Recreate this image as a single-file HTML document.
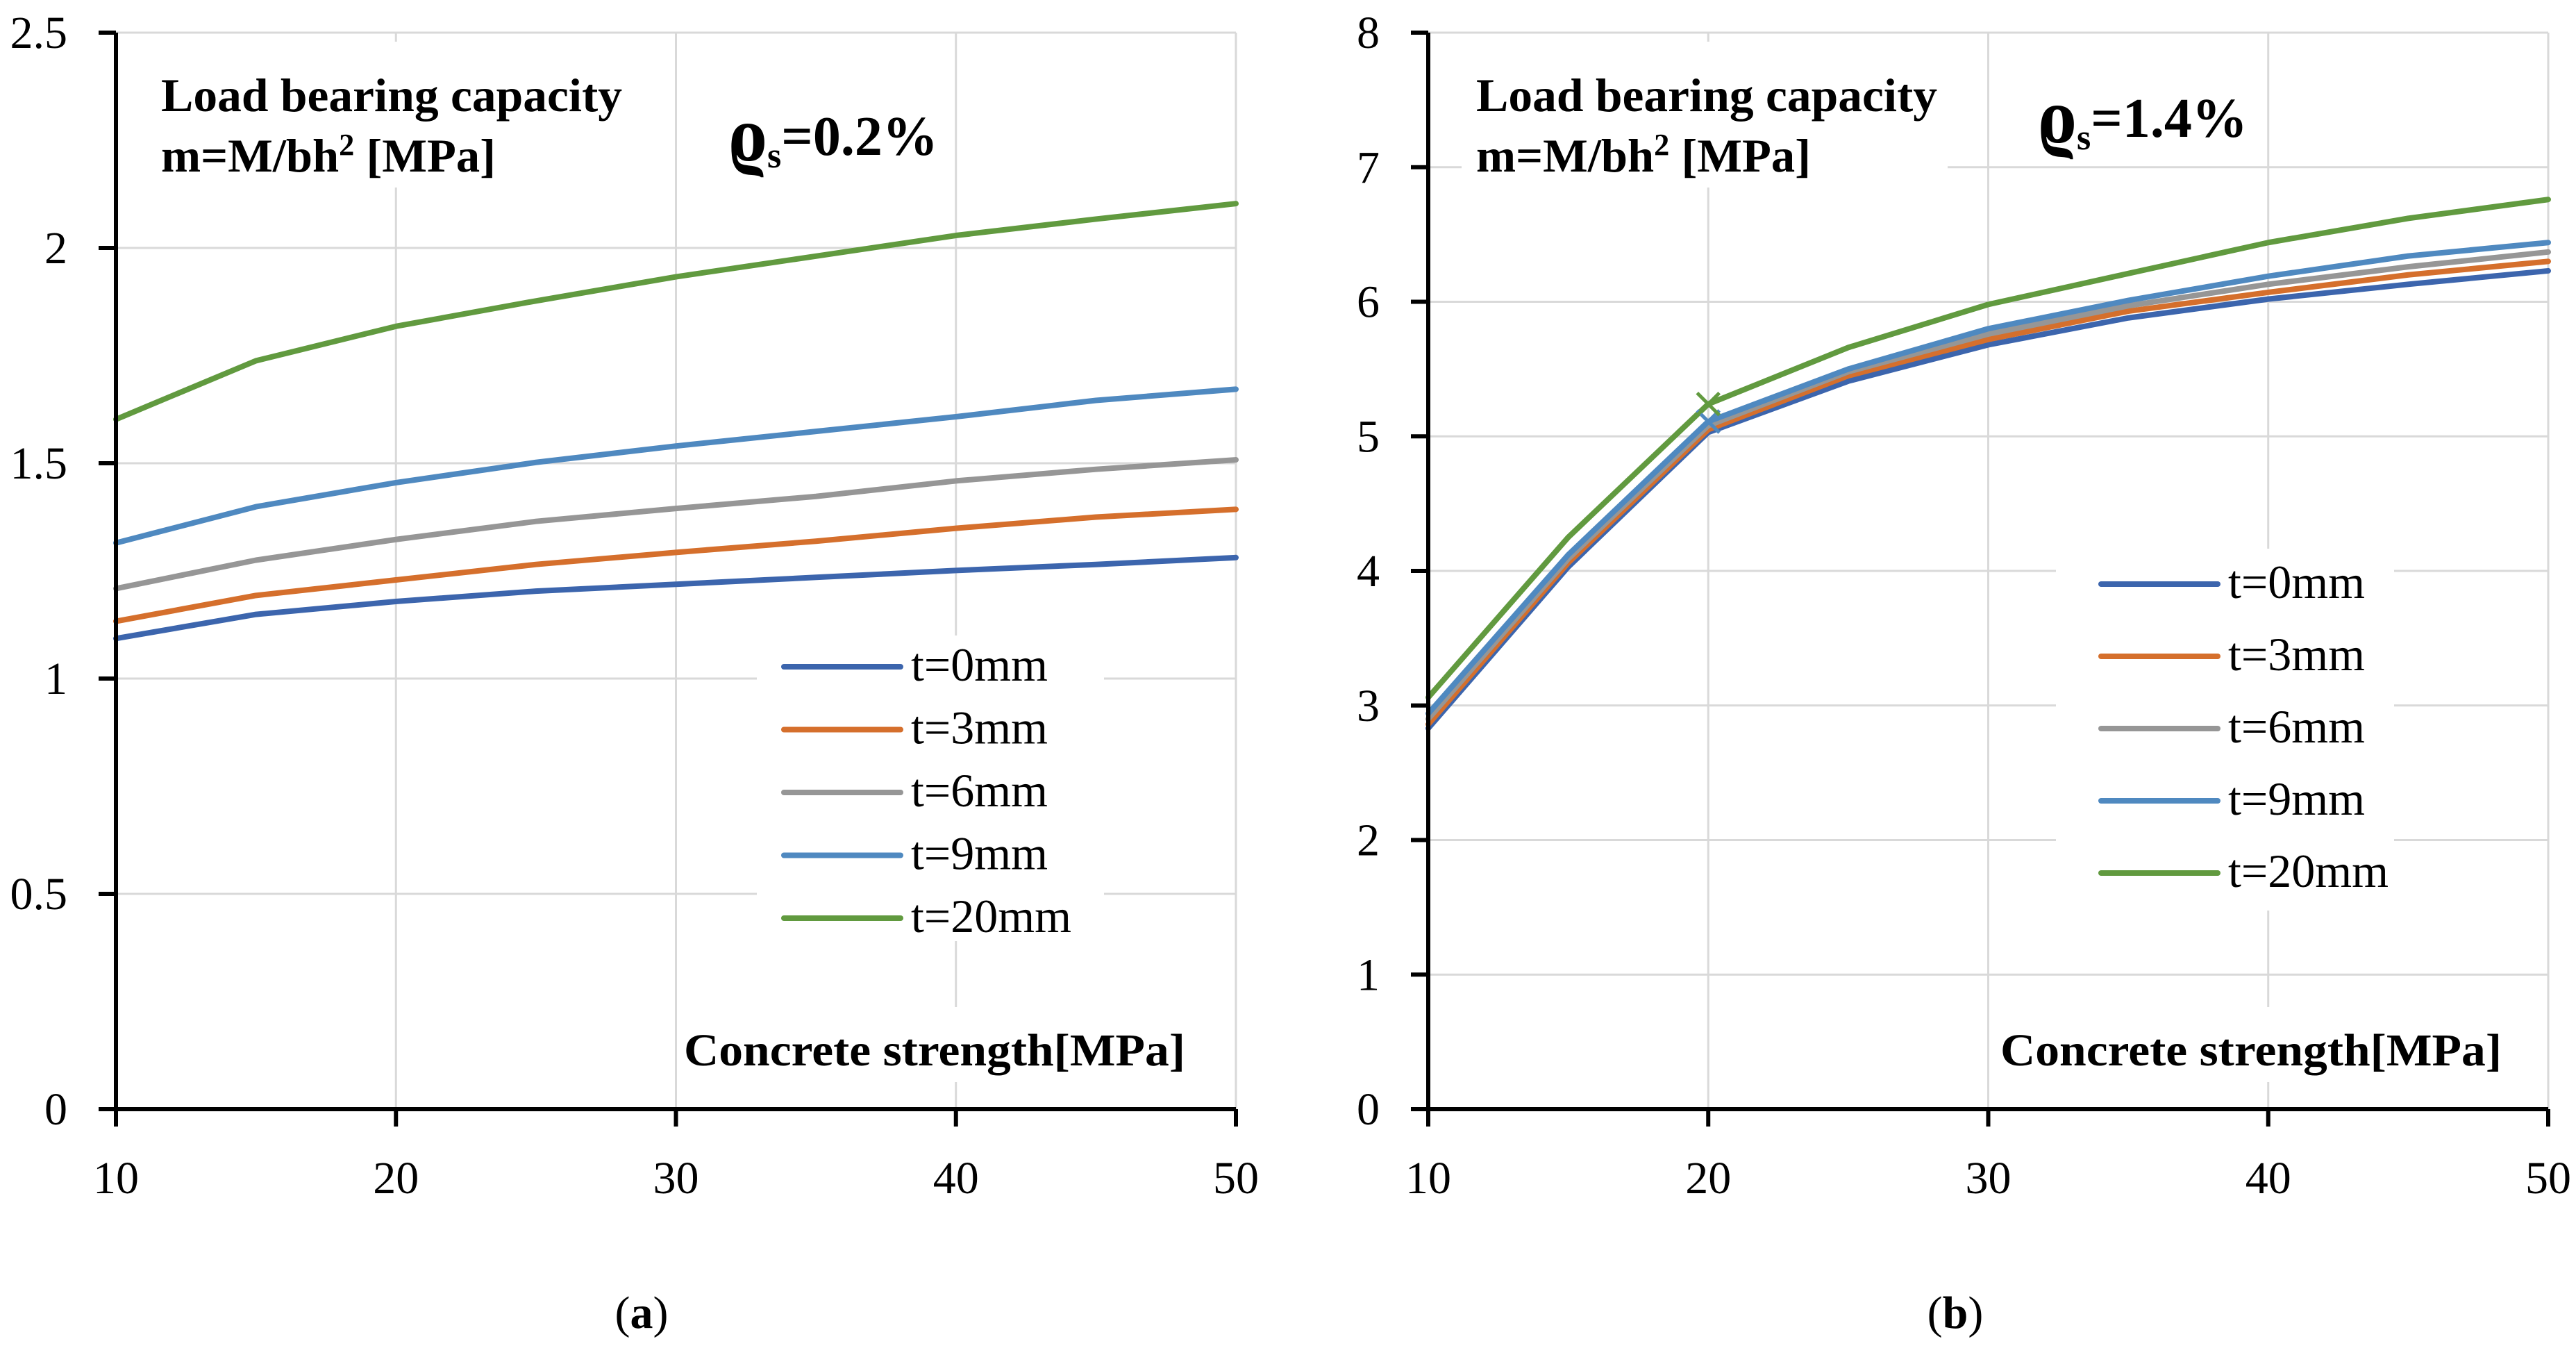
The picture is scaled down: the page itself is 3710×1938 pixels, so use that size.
<!DOCTYPE html>
<html><head><meta charset="utf-8">
<style>
html,body{margin:0;padding:0;background:#fff;}
svg{display:block;}
text{font-family:"Liberation Serif",serif;}
</style></head>
<body>
<svg id="fig" xmlns="http://www.w3.org/2000/svg" width="3710" height="1938" viewBox="0 0 3710 1938"></svg>
<script>
const xCats = [10, 15, 20, 25, 30, 35, 40, 45, 50];
const xTicks = [10, 20, 30, 40, 50];
const seriesNames = ["t=0mm", "t=3mm", "t=6mm", "t=9mm", "t=20mm"];
const seriesColors = ["#3c65ad", "#d56f2c", "#969696", "#4f89c0", "#619a3f"];
const aT0 = [1.093, 1.149, 1.179, 1.203, 1.219, 1.235, 1.251, 1.265, 1.281];
const aT3 = [1.133, 1.193, 1.229, 1.265, 1.293, 1.319, 1.349, 1.375, 1.393];
const aT6 = [1.209, 1.275, 1.323, 1.365, 1.395, 1.423, 1.459, 1.486, 1.508];
const aT9 = [1.315, 1.399, 1.455, 1.502, 1.540, 1.574, 1.608, 1.646, 1.672];
const aT20 = [1.602, 1.738, 1.818, 1.877, 1.933, 1.981, 2.029, 2.067, 2.103];
const bT0 = [2.83, 4.03, 5.03, 5.41, 5.68, 5.88, 6.02, 6.13, 6.23];
const bT3 = [2.86, 4.06, 5.05, 5.45, 5.72, 5.93, 6.07, 6.20, 6.30];
const bT6 = [2.90, 4.09, 5.08, 5.48, 5.76, 5.97, 6.13, 6.26, 6.37];
const bT9 = [2.94, 4.12, 5.11, 5.50, 5.80, 6.01, 6.19, 6.34, 6.44];
const bT20 = [3.06, 4.25, 5.24, 5.66, 5.98, 6.21, 6.44, 6.62, 6.76];
const aYTicks = [0, 0.5, 1, 1.5, 2, 2.5];
const aYLabels = ["0", "0.5", "1", "1.5", "2", "2.5"];
const bYTicks = [0, 1, 2, 3, 4, 5, 6, 7, 8];
const bYLabels = ["0", "1", "2", "3", "4", "5", "6", "7", "8"];

const NS = "http://www.w3.org/2000/svg";
const svg = document.getElementById("fig");
function mk(tag, attrs, parent) {
  const e = document.createElementNS(NS, tag);
  for (const k in attrs) e.setAttribute(k, attrs[k]);
  (parent || svg).appendChild(e);
  return e;
}

function panel(cfg) {
  const g = mk("g", {});
  
  
  const X0 = cfg.x0, X1 = cfg.x0 + 1613, Y0 = 1597, Y1 = 47;
  const xs = v => X0 + (v - 10) / 40 * (X1 - X0);
  const ys = v => Y0 - v / cfg.ymax * (Y0 - Y1);
  cfg.yt.forEach((t, i) => {
    if (t === 0) return;
    const l = mk("line", {x1: X0, x2: X1, y1: ys(t), y2: ys(t), stroke: "#d9d9d9", "stroke-width": 3}, g);
    
    
  });
  xTicks.forEach(t => {
    if (t === 10) return;
    const l = mk("line", {x1: xs(t), x2: xs(t), y1: Y1, y2: Y0, stroke: "#d9d9d9", "stroke-width": 3}, g);
    
    
  });
  cfg.boxes.forEach(b => mk("rect", {x: b[0], y: b[1], width: b[2], height: b[3], fill: "#fff"}, g));
  const sets = cfg.series;
  sets.forEach((vals, si) => {
    const pts = xCats.map((c, i) => xs(c) + "," + ys(vals[i])).join(" ");
    const p = mk("polyline", {points: pts, fill: "none", stroke: seriesColors[si], "stroke-width": 8, "stroke-linejoin": "round", "stroke-linecap": "round"}, g);
    
    
  });
  if (cfg.markers) {
    cfg.markers.forEach(si => {
      const cx = xs(20), cy = ys(sets[si][2]);
      const m = mk("path", {d: `M${cx-16},${cy-16}L${cx+16},${cy+16}M${cx-16},${cy+16}L${cx+16},${cy-16}`, stroke: seriesColors[si], "stroke-width": 5, fill: "none"}, g);
      
      
    });
  }
  const ax = mk("path", {d: `M${X0},${Y1}V${Y0}H${X1}`, stroke: "#000", "stroke-width": 6, fill: "none"}, g);
  
  
  cfg.yt.forEach((t, i) => {
    mk("line", {x1: X0 - 25, x2: X0, y1: ys(t), y2: ys(t), stroke: "#000", "stroke-width": 6}, g);
    const tx = mk("text", {x: X0 - 70, y: ys(t) + 22, "text-anchor": "end", "font-size": 66}, g);
    tx.textContent = cfg.yl[i];
    
    
  });
  xTicks.forEach(t => {
    mk("line", {x1: xs(t), x2: xs(t), y1: Y0, y2: Y0 + 25, stroke: "#000", "stroke-width": 6}, g);
    const tx = mk("text", {x: xs(t), y: 1718, "text-anchor": "middle", "font-size": 66}, g);
    tx.textContent = String(t);
    
    
  });
  const t1 = mk("text", {x: X0 + cfg.tdx, y: 160, "font-size": 68, "font-weight": "bold", textLength: 664, lengthAdjust: "spacingAndGlyphs"}, g);
  t1.textContent = "Load bearing capacity";
  
  
  const t2 = mk("text", {x: X0 + cfg.tdx, y: 247, "font-size": 68, "font-weight": "bold", textLength: 482, lengthAdjust: "spacingAndGlyphs"}, g);
  t2.innerHTML = 'm=M/bh<tspan font-size="44" dy="-24">2</tspan><tspan dy="24"> [MPa]</tspan>';
  
  
  const t3 = mk("text", {x: cfg.rhoX, y: cfg.rhoY, "font-size": 80, "font-weight": "bold"}, g);
  t3.innerHTML = '<tspan font-size="112" dy="8">ϱ</tspan><tspan font-size="52" dy="10">s</tspan><tspan dy="-18">' + cfg.rho + '</tspan>';
  
  
  const t4 = mk("text", {x: X0 + cfg.cdx, y: 1534, "font-size": 66, "font-weight": "bold", textLength: 722, lengthAdjust: "spacingAndGlyphs"}, g);
  t4.textContent = "Concrete strength[MPa]";
  
  
  const lg = mk("g", {}, g);
  
  
  seriesNames.forEach((n, i) => {
    const ly = cfg.legY + i * cfg.legStep;
    const e = mk("g", {}, lg);
    
    
    mk("line", {x1: cfg.legX, x2: cfg.legX + 168, y1: ly, y2: ly, stroke: seriesColors[i], "stroke-width": 8, "stroke-linecap": "round"}, e);
    const tx = mk("text", {x: cfg.legX + 183, y: ly + 20, "font-size": 68}, e);
    tx.textContent = n;
  });
  const cap = mk("text", {x: X0 + cfg.capdx, y: 1912, "text-anchor": "middle", "font-size": 66}, g);
  cap.innerHTML = '(<tspan font-weight="bold">' + cfg.cap + '</tspan>)';
  
  
}

panel({name: "panel-a", x0: 167, ymax: 2.5, yt: aYTicks, yl: aYLabels,
  series: [aT0, aT3, aT6, aT9, aT20], tdx: 65, rhoX: 1049, rhoY: 223, rho: "=0.2%", cdx: 818,
  legX: 1129, legY: 960, legStep: 90.5, capdx: 757, cap: "a",
  boxes: [[215, 60, 700, 210], [975, 1450, 760, 108], [1090, 915, 500, 440]]});
panel({name: "panel-b", x0: 2057, ymax: 8, yt: bYTicks, yl: bYLabels,
  series: [bT0, bT3, bT6, bT9, bT20], tdx: 69, rhoX: 2935, rhoY: 197, rho: "=1.4%", cdx: 824,
  legX: 3026, legY: 841, legStep: 104, capdx: 759, cap: "b",
  boxes: [[2105, 60, 700, 210], [2865, 1450, 760, 108], [2961, 790, 487, 521]],
  markers: [3, 4]});
</script>
</body></html>
